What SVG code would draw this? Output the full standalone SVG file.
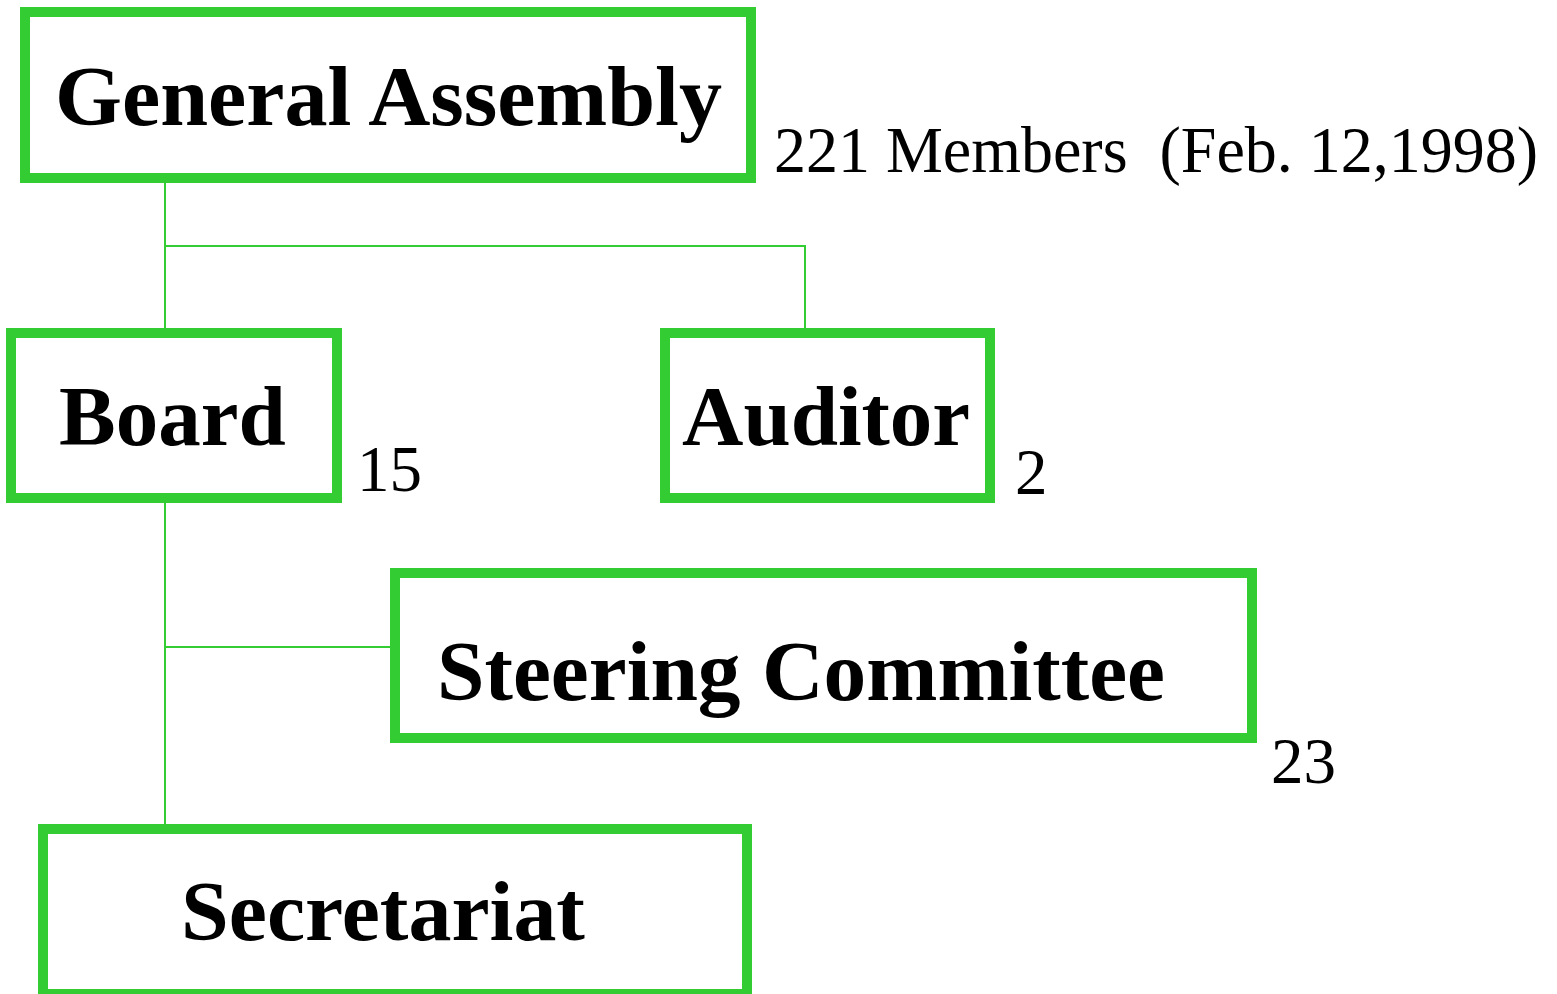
<svg xmlns="http://www.w3.org/2000/svg" width="1557" height="994" viewBox="0 0 1557 994">
<style>
.box{fill:#fff;stroke:#33cc33;stroke-width:10}
.conn{fill:none;stroke:#33cc33;stroke-width:2}
.lbl{font-family:"Liberation Serif","Times New Roman",serif;font-weight:bold;font-size:85px;fill:#000}
.num{font-family:"Liberation Serif","Times New Roman",serif;font-size:65px;fill:#000;white-space:pre}
</style>
<rect width="1557" height="994" fill="#fff"/>
<g id="connectors">
<polyline class="conn" points="165,183 165,328"/>
<polyline class="conn" points="165,246 805,246 805,328"/>
<polyline class="conn" points="165,503 165,824"/>
<polyline class="conn" points="165,647 390,647"/>
</g>
<g id="general-assembly">
<rect class="box" x="25" y="12" width="726" height="166"/>
<text class="lbl" x="55" y="125" textLength="667" lengthAdjust="spacingAndGlyphs">General Assembly</text>
<text class="num" x="774" y="172" xml:space="preserve" textLength="764" lengthAdjust="spacingAndGlyphs">221 Members  (Feb. 12,1998)</text>
</g>
<g id="board">
<rect class="box" x="11" y="333" width="326" height="165"/>
<text class="lbl" x="59" y="445">Board</text>
<text class="num" x="357" y="491">15</text>
</g>
<g id="auditor">
<rect class="box" x="665" y="333" width="325" height="165"/>
<text class="lbl" x="682" y="445">Auditor</text>
<text class="num" x="1015" y="494">2</text>
</g>
<g id="steering-committee">
<rect class="box" x="395" y="573" width="857" height="165"/>
<text class="lbl" x="437" y="700" textLength="728" lengthAdjust="spacingAndGlyphs">Steering Committee</text>
<text class="num" x="1271" y="783">23</text>
</g>
<g id="secretariat">
<rect class="box" x="43" y="829" width="704" height="165"/>
<text class="lbl" x="181" y="940" textLength="404" lengthAdjust="spacingAndGlyphs">Secretariat</text>
</g>
</svg>
